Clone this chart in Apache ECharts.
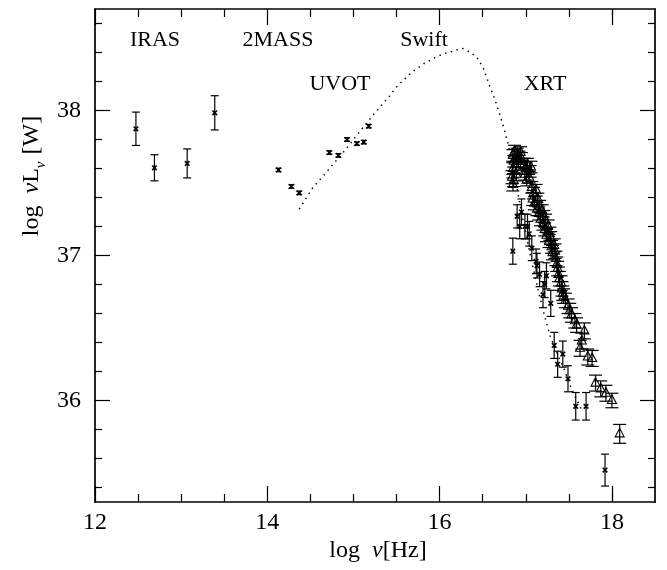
<!DOCTYPE html>
<html><head><meta charset="utf-8">
<script src="https://cdn.jsdelivr.net/npm/echarts@6/dist/echarts.min.js"></script>
<style>html,body{margin:0;padding:0;background:#fff}#c{width:667px;height:570px}</style>
</head><body><div id="c"></div>
<script>
// ---- tick values ----
const xMajorTicks = [12, 14, 16, 18];
const xMinorTicks = [12.5, 13, 13.5, 14.5, 15, 15.5, 16.5, 17, 17.5, 18];
const yMajorTicks = [36, 37, 38];
const yMinorTicks = [35.4, 35.6, 35.8, 36.2, 36.4, 36.6, 36.8, 37.2, 37.4, 37.6, 37.8, 38.2, 38.4, 38.6];

// ---- data: [log nu, log nuL, error] ----
const irasData = [[12.475, 37.874, 0.115], [12.69, 37.605, 0.09], [13.07, 37.635, 0.10], [13.39, 37.984, 0.118]];
const twoMassData = [[14.13, 37.59, 0.012], [14.28, 37.476, 0.012], [14.37, 37.432, 0.012]];
const uvotData = [[14.72, 37.71, 0.012], [14.825, 37.69, 0.012], [14.925, 37.80, 0.012], [15.04, 37.772, 0.012], [15.12, 37.782, 0.012], [15.177, 37.892, 0.012]];
const xrtCrossData = [[16.85, 37.03, 0.09], [16.90, 37.27, 0.08], [16.95, 37.30, 0.09], [16.93, 37.20, 0.085], [16.99, 37.20, 0.085], [17.02, 37.20, 0.085], [17.04, 37.15, 0.085], [17.07, 37.05, 0.085], [17.12, 36.96, 0.085], [17.13, 36.93, 0.085], [17.16, 36.87, 0.085], [17.24, 36.86, 0.09], [17.22, 36.80, 0.09], [17.20, 36.73, 0.09], [17.29, 36.67, 0.09], [17.33, 36.38, 0.09], [17.43, 36.32, 0.09], [17.37, 36.25, 0.09], [17.49, 36.15, 0.09], [17.58, 35.96, 0.095], [17.70, 35.96, 0.095], [17.92, 35.52, 0.11]];
const xrtTriData = [[16.85, 37.69, 0.04], [16.87, 37.72, 0.04], [16.90, 37.70, 0.04], [16.92, 37.68, 0.04], [16.94, 37.71, 0.04], [16.86, 37.65, 0.04], [16.91, 37.65, 0.04], [16.95, 37.67, 0.04], [16.85, 37.60, 0.04], [16.89, 37.61, 0.04], [16.84, 37.54, 0.045], [16.86, 37.52, 0.045], [16.89, 37.56, 0.045], [16.85, 37.49, 0.045], [16.98, 37.63, 0.04], [17.00, 37.60, 0.04], [17.02, 37.63, 0.04], [17.05, 37.58, 0.04], [16.99, 37.56, 0.04], [17.04, 37.54, 0.04], [17.06, 37.61, 0.04], [17.01, 37.52, 0.04], [17.07, 37.47, 0.04], [17.09, 37.43, 0.04], [17.08, 37.39, 0.045], [17.12, 37.45, 0.04], [17.10, 37.36, 0.045], [17.14, 37.39, 0.04], [17.13, 37.32, 0.045], [17.16, 37.34, 0.04], [17.15, 37.29, 0.045], [17.19, 37.31, 0.04], [17.17, 37.25, 0.045], [17.21, 37.27, 0.04], [17.20, 37.22, 0.045], [17.23, 37.24, 0.045], [17.22, 37.18, 0.045], [17.26, 37.20, 0.045], [17.24, 37.14, 0.045], [17.28, 37.15, 0.045], [17.27, 37.10, 0.045], [17.29, 37.12, 0.045], [17.30, 37.06, 0.045], [17.33, 37.07, 0.045], [17.31, 37.02, 0.05], [17.34, 37.03, 0.05], [17.35, 36.98, 0.05], [17.36, 36.94, 0.05], [17.37, 36.91, 0.05], [17.38, 36.87, 0.05], [17.39, 36.84, 0.05], [17.41, 36.81, 0.05], [17.42, 36.77, 0.05], [17.43, 36.74, 0.05], [17.44, 36.72, 0.05], [17.46, 36.69, 0.05], [17.49, 36.65, 0.05], [17.51, 36.62, 0.05], [17.53, 36.59, 0.05], [17.57, 36.55, 0.05], [17.59, 36.52, 0.05], [17.68, 36.48, 0.055], [17.65, 36.41, 0.055], [17.63, 36.36, 0.055], [17.72, 36.30, 0.055], [17.77, 36.29, 0.055], [17.81, 36.12, 0.055], [17.87, 36.08, 0.055], [17.93, 36.05, 0.055], [18.00, 36.00, 0.05], [18.09, 35.77, 0.065]];
const modelCurve = [[14.37, 37.32], [14.53, 37.47], [14.65, 37.55], [14.88, 37.71], [15.04, 37.83], [15.23, 37.97], [15.42, 38.10], [15.48, 38.15], [15.58, 38.21], [15.69, 38.27], [15.81, 38.32], [15.93, 38.36], [16.04, 38.39], [16.16, 38.41], [16.26, 38.43], [16.33, 38.41], [16.43, 38.37], [16.51, 38.29], [16.58, 38.17], [16.64, 38.08], [16.70, 37.97], [16.76, 37.85], [16.80, 37.76], [16.84, 37.63], [16.89, 37.49], [16.93, 37.36], [16.99, 37.18], [17.05, 37.01], [17.11, 36.85], [17.16, 36.72], [17.22, 36.58], [17.28, 36.45], [17.34, 36.36], [17.39, 36.29], [17.45, 36.21], [17.51, 36.11], [17.57, 36.03], [17.63, 35.96], [17.65, 35.93]];

const FONT = '"Liberation Serif", "DejaVu Serif", serif';
const INK = '#000';

function errMarker(capHalf, kind) {
  return function (params, api) {
    const x = api.value(0), y = api.value(1), e = api.value(2);
    const p = api.coord([x, y]);
    const t = api.coord([x, y + e]);
    const b = api.coord([x, y - e]);
    const ls = { stroke: INK, lineWidth: 1.2 };
    const ch = [
      { type: 'line', shape: { x1: p[0], y1: t[1], x2: p[0], y2: b[1] }, style: ls },
      { type: 'line', shape: { x1: p[0] - capHalf, y1: t[1], x2: p[0] + capHalf, y2: t[1] }, style: ls },
      { type: 'line', shape: { x1: p[0] - capHalf, y1: b[1], x2: p[0] + capHalf, y2: b[1] }, style: ls }
    ];
    if (kind === 'tri') {
      ch.push({ type: 'polygon', shape: { points: [[p[0], p[1] - 5.5], [p[0] - 4.5, p[1] + 3], [p[0] + 4.5, p[1] + 3]] },
        style: { fill: 'rgba(0,0,0,0)', stroke: INK, lineWidth: 1.1 } });
    } else {
      const s = 2.3;
      const xs = { stroke: INK, lineWidth: 1.6 };
      ch.push({ type: 'line', shape: { x1: p[0] - s, y1: p[1] - s, x2: p[0] + s, y2: p[1] + s }, style: xs });
      ch.push({ type: 'line', shape: { x1: p[0] - s, y1: p[1] + s, x2: p[0] + s, y2: p[1] - s }, style: xs });
    }
    return { type: 'group', children: ch };
  };
}

function axisX(gridIndex, pos, ticks, len, labels, line) {
  return {
    type: 'value', gridIndex: gridIndex, position: pos, min: 12, max: 18.5,
    axisLine: { show: line, onZero: false, lineStyle: { color: INK, width: 1.7 } },
    axisTick: { show: true, inside: true, length: len, customValues: ticks, lineStyle: { color: INK, width: 1.2 } },
    axisLabel: labels ? { show: true, customValues: ticks, color: INK, fontSize: 24, fontFamily: FONT, margin: 9 } : { show: false },
    splitLine: { show: false }
  };
}
function axisY(gridIndex, pos, ticks, len, labels, line) {
  return {
    type: 'value', gridIndex: gridIndex, position: pos, min: 35.3, max: 38.7,
    axisLine: { show: line, onZero: false, lineStyle: { color: INK, width: 1.7 } },
    axisTick: { show: true, inside: true, length: len, customValues: ticks, lineStyle: { color: INK, width: 1.2 } },
    axisLabel: labels ? { show: true, customValues: ticks, color: INK, fontSize: 24, fontFamily: FONT, margin: 14 } : { show: false },
    splitLine: { show: false }
  };
}

const gridBox = { left: 95, right: 12, top: 9, bottom: 68 };
const chart = echarts.init(document.getElementById('c'), null, { renderer: 'canvas' });
const ann = (txt, x, y) => ({ type: 'text', x: x, y: y, style: { text: txt, fill: INK, font: '22px ' + FONT, align: 'center', verticalAlign: 'middle' } });

chart.setOption({
  animation: false,
  backgroundColor: '#fff',
  grid: [Object.assign({}, gridBox), Object.assign({}, gridBox)],
  xAxis: [
    axisX(0, 'bottom', xMajorTicks, 16, true, true),
    axisX(0, 'top', xMajorTicks, 16, false, true),
    axisX(1, 'bottom', xMinorTicks, 8, false, false),
    axisX(1, 'top', xMinorTicks, 8, false, false)
  ],
  yAxis: [
    axisY(0, 'left', yMajorTicks, 15, true, true),
    axisY(0, 'right', yMajorTicks, 15, false, true),
    axisY(1, 'left', yMinorTicks, 7, false, false),
    axisY(1, 'right', yMinorTicks, 7, false, false)
  ],
  series: [
    { type: 'line', xAxisIndex: 0, yAxisIndex: 0, data: modelCurve, symbol: 'none', silent: true,
      lineStyle: { color: INK, width: 1.5, type: [1.4, 4.6] } },
    { type: 'custom', xAxisIndex: 0, yAxisIndex: 0, data: irasData, renderItem: errMarker(4, 'x') },
    { type: 'custom', xAxisIndex: 0, yAxisIndex: 0, data: twoMassData, renderItem: errMarker(3, 'x') },
    { type: 'custom', xAxisIndex: 0, yAxisIndex: 0, data: uvotData, renderItem: errMarker(3, 'x') },
    { type: 'custom', xAxisIndex: 0, yAxisIndex: 0, data: xrtCrossData, renderItem: errMarker(4, 'x') },
    { type: 'custom', xAxisIndex: 0, yAxisIndex: 0, data: xrtTriData, renderItem: errMarker(6.5, 'tri') }
  ],
  graphic: [
    ann('IRAS', 155, 40),
    ann('2MASS', 278, 40),
    ann('Swift', 424, 40),
    ann('UVOT', 340, 84),
    ann('XRT', 545, 84),
    { type: 'text', x: 378, y: 551,
      style: { text: '{a|log  }{i|ν}{a|[Hz]}', fill: INK, align: 'center', verticalAlign: 'middle',
        rich: { a: { fontSize: 24, fontFamily: FONT, fill: INK },
                i: { fontSize: 24, fontFamily: FONT, fontStyle: 'italic', fill: INK } } } },
    { type: 'text', x: 30, y: 176, rotation: Math.PI / 2,
      style: { text: '{a|log  }{i|ν}{a|L}{s|ν}{a| [W]}', fill: INK, align: 'center', verticalAlign: 'middle',
        rich: { a: { fontSize: 24, fontFamily: FONT, fill: INK, lineHeight: 28, verticalAlign: 'bottom' },
                i: { fontSize: 24, fontFamily: FONT, fontStyle: 'italic', fill: INK, lineHeight: 28, verticalAlign: 'bottom' },
                s: { fontSize: 15, fontFamily: FONT, fontStyle: 'italic', fill: INK, lineHeight: 28, verticalAlign: 'bottom', padding: [0, 1, -5, 0] } } } }
  ]
});
</script>
</body></html>
